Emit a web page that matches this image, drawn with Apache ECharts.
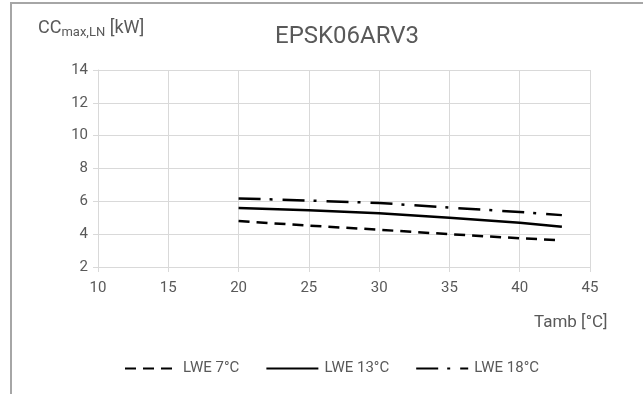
<!DOCTYPE html>
<html>
<head>
<meta charset="utf-8">
<script src="https://cdn.jsdelivr.net/npm/echarts@6/dist/echarts.min.js"></script>
<style>
  html, body { margin: 0; padding: 0; background: #fff; }
  #main { width: 643px; height: 394px; }
</style>
</head>
<body>
<div id="main"></div>
<script>
var FONT = "Roboto, sans-serif";

// ambient temperature points (x axis)
var tamb = [20, 25, 30, 35, 40, 43];
// capacity values per leaving water temperature
var lwe7 = [4.8, 4.52, 4.27, 4.0, 3.75, 3.63];
var lwe13 = [5.6, 5.45, 5.28, 5.0, 4.7, 4.45];
var lwe18 = [6.18, 6.05, 5.9, 5.62, 5.35, 5.16];
var seriesNames = ["LWE 7°C", "LWE 13°C", "LWE 18°C"];

function pairs(ys) {
  return tamb.map(function (x, i) { return [x, ys[i]]; });
}

var chartDom = document.getElementById("main");
var myChart = echarts.init(chartDom);

var option = {
  animation: false,
  backgroundColor: "#fff",
  textStyle: { fontFamily: FONT },
  title: [
    {
      text: "EPSK06ARV3",
      left: 270,
      top: 20,
      textStyle: { fontFamily: FONT, fontSize: 24, fontWeight: "normal", color: "#595959" },
    },
    {
      text: "{a|CC}{b|max,LN}{a| [kW]}",
      left: 33,
      top: 12,
      textStyle: {
        rich: {
          a: { fontFamily: FONT, fontSize: 18, fontWeight: "normal", color: "#595959" },
          b: { fontFamily: FONT, fontSize: 13, fontWeight: "normal", color: "#595959", padding: [9, 0, 0, 0] },
        },
      },
    },
    {
      text: "Tamb [°C]",
      left: 529,
      top: 309,
      textStyle: { fontFamily: FONT, fontSize: 17, fontWeight: "normal", color: "#595959" },
    },
  ],
  graphic: [
    {
      type: "rect",
      shape: { x: 11, y: 3, width: 700, height: 500 },
      style: { fill: "none", stroke: "#a6a6a6", lineWidth: 2 },
      silent: true,
    },
  ],
  legend: {
    data: seriesNames,
    top: 356,
    left: 119,
    itemWidth: 52,
    itemHeight: 12,
    itemGap: 26,
    textStyle: { fontFamily: FONT, fontSize: 15, color: "#595959", padding: [0, 0, 0, 1] },
  },
  grid: { left: 98, right: 53, top: 70, bottom: 127 },
  xAxis: {
    type: "value",
    min: 10,
    max: 45,
    interval: 5,
    axisLine: { lineStyle: { color: "#d9d9d9" } },
    axisTick: { show: true, length: 5, lineStyle: { color: "#d9d9d9" } },
    axisLabel: { fontFamily: FONT, fontSize: 15, color: "#595959", margin: 14 },
    splitLine: { lineStyle: { color: "#d9d9d9" } },
  },
  yAxis: {
    type: "value",
    min: 2,
    max: 14,
    interval: 2,
    axisLine: { show: true, lineStyle: { color: "#d9d9d9" } },
    axisTick: { show: true, length: 5, lineStyle: { color: "#d9d9d9" } },
    axisLabel: { fontFamily: FONT, fontSize: 15, color: "#595959", margin: 10 },
    splitLine: { lineStyle: { color: "#d9d9d9" } },
  },
  series: [
    {
      name: seriesNames[0],
      type: "line",
      symbol: "none",
      data: pairs(lwe7),
      lineStyle: { color: "#000", width: 2.5, type: [11, 7] },
      itemStyle: { color: "transparent" },
    },
    {
      name: seriesNames[1],
      type: "line",
      symbol: "none",
      data: pairs(lwe13),
      lineStyle: { color: "#000", width: 2.5, type: "solid" },
      itemStyle: { color: "transparent" },
    },
    {
      name: seriesNames[2],
      type: "line",
      symbol: "none",
      data: pairs(lwe18),
      lineStyle: { color: "#000", width: 2.5, type: [22, 9, 3, 10] },
      itemStyle: { color: "transparent" },
    },
  ],
};

myChart.setOption(option);
</script>
</body>
</html>
